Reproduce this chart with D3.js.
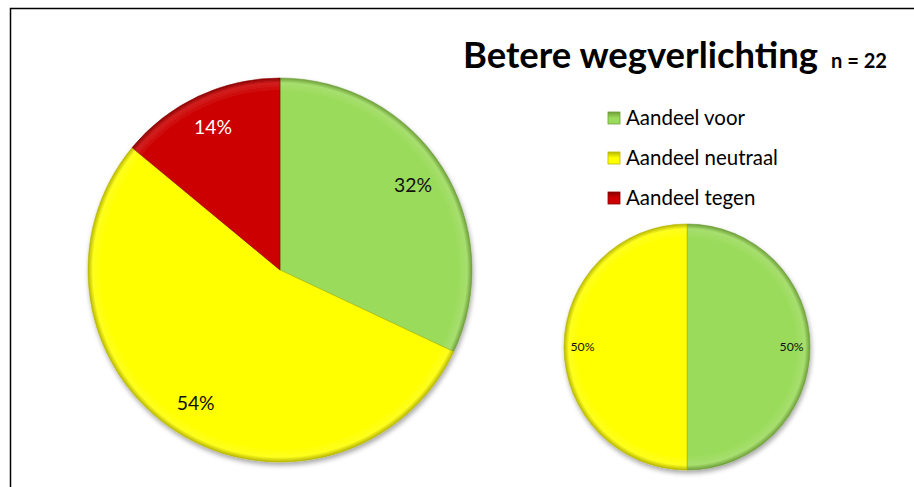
<!DOCTYPE html>
<html><head><meta charset="utf-8">
<script src="https://cdn.jsdelivr.net/npm/d3@7/dist/d3.min.js"></script>
<style>body{margin:0;background:#fff;}svg{display:block;font-family:Lato,"Open Sans",sans-serif;}</style>
</head><body>
<script>
const categories = ["Aandeel voor", "Aandeel neutraal", "Aandeel tegen"];
const bigValues = [32, 54, 14];
const smallValues = [50, 50, 0];
const colors = ["#9BDB5B", "#FFFF00", "#CC0000"];
const darkColors = ["#6f9f3a", "#b8b800", "#8a0000"];
const labelColors = ["#111", "#111", "#fff"];
const title = "Betere wegverlichting";
const subtitle = "n = 22";

const W = 914, H = 487;
const svg = d3.select("body").append("svg").attr("width", W).attr("height", H);
const defs = svg.append("defs");

// fit text width by adjusting font size
function fit(sel, width){
  const n = sel.node();
  const fs = parseFloat(sel.attr("font-size"));
  const len = n.getComputedTextLength();
  if (len > 0) sel.attr("font-size", fs * width / len);
  return sel;
}

// drop shadow
const f = defs.append("filter").attr("id","shadow").attr("x","-10%").attr("y","-10%").attr("width","130%").attr("height","130%");
f.append("feGaussianBlur").attr("in","SourceAlpha").attr("stdDeviation",2.5).attr("result","b");
f.append("feOffset").attr("in","b").attr("dx",1).attr("dy",3).attr("result","o");
f.append("feComponentTransfer").attr("in","o").attr("result","o2").append("feFuncA").attr("type","linear").attr("slope",0.35);
const m = f.append("feMerge"); m.append("feMergeNode").attr("in","o2"); m.append("feMergeNode").attr("in","SourceGraphic");

function makeGrad(id, r, i){
  const g = defs.append("radialGradient").attr("id",id).attr("gradientUnits","userSpaceOnUse")
    .attr("cx",0).attr("cy",0).attr("r",r);
  g.append("stop").attr("offset","0").attr("stop-color",colors[i]);
  g.append("stop").attr("offset",1 - 14/r).attr("stop-color",colors[i]);
  g.append("stop").attr("offset",1 - 5/r).attr("stop-color",d3.interpolateRgb(colors[i],"#ffffff")(0.12));
  g.append("stop").attr("offset","1").attr("stop-color",darkColors[i]);
}

// border
svg.append("path").attr("d",`M10.5,${H+2} V8.5 H${W+2}`).attr("fill","none").attr("stroke","#000").attr("stroke-width",1.5);

function drawPie(values, cx, cy, r, id, fontSize, labelRatio, labelWidth){
  values.forEach((v,i)=>makeGrad(id+"g"+i, r, i));
  const pie = d3.pie().sort(null).value(d=>d)(values);
  const arc = d3.arc().innerRadius(0).outerRadius(r);
  const g = svg.append("g").attr("transform",`translate(${cx},${cy})`);
  const gs = g.append("g").attr("filter","url(#shadow)");
  gs.selectAll("path").data(pie.filter(d=>d.value>0)).join("path")
    .attr("d",arc)
    .attr("fill",d=>`url(#${id}g${d.index})`)
    .attr("stroke",d=>darkColors[d.index]).attr("stroke-width",1).attr("stroke-opacity",0.55);
  const la = d3.arc().innerRadius(r*labelRatio).outerRadius(r*labelRatio);
  g.selectAll("text").data(pie.filter(d=>d.value>0)).join("text")
    .attr("transform",d=>`translate(${la.centroid(d)})`)
    .attr("text-anchor","middle").attr("dy","0.35em")
    .attr("font-size",fontSize).attr("fill",d=>labelColors[d.index])
    .text(d=>d.value+"%")
    .each(function(){ fit(d3.select(this), labelWidth); });
}
drawPie(bigValues, 280, 270, 192, "big", 17, 0.82, 38);
drawPie(smallValues, 687, 347, 123, "small", 10, 0.85, 24);

// title
fit(svg.append("text").attr("x",463).attr("y",68).attr("font-weight","bold").attr("font-size",33).attr("fill","#000").text(title), 355);
fit(svg.append("text").attr("x",831).attr("y",68).attr("font-weight","bold").attr("font-size",16).attr("fill","#000").text(subtitle), 56);

// legend
const lg = svg.append("g");
categories.forEach((c,i)=>{
  const y = 118 + i*40;
  const gd = defs.append("linearGradient").attr("id","lgd"+i).attr("x1",0).attr("y1",0).attr("x2",0).attr("y2",1);
  gd.append("stop").attr("offset",0).attr("stop-color",darkColors[i]);
  gd.append("stop").attr("offset",0.5).attr("stop-color",colors[i]);
  gd.append("stop").attr("offset",1).attr("stop-color",colors[i]);
  lg.append("rect").attr("x",608).attr("y",y-6).attr("width",12).attr("height",12)
    .attr("fill",`url(#lgd${i})`).attr("stroke",darkColors[i]).attr("stroke-width",0.8);
  const tx = lg.append("text").attr("x",626).attr("y",y).attr("dy","0.35em").attr("font-size",17.5).attr("fill","#000").text(c);
  if (i === 1) fit(tx, 152); else tx.attr("font-size", null);
});
// make legend texts share size of neutraal
const legFs = lg.selectAll("text").filter((d,i)=>i===1).attr("font-size");
lg.selectAll("text").attr("font-size", legFs);
</script>
</body></html>
